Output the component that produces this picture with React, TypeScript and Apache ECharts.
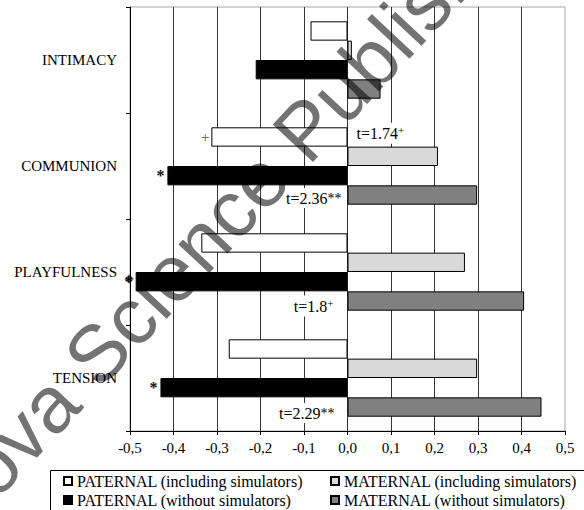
import { useEffect, useRef } from 'react';
import * as echarts from 'echarts';

const SERIF = "'Liberation Serif', 'Times New Roman', serif";
const SANS = "'Liberation Sans', Arial, sans-serif";

// Dimensions (top to bottom) and mean differences per group
const categories = ['INTIMACY', 'COMMUNION', 'PLAYFULNESS', 'TENSION'];
const paternalIncluding = [-0.085, -0.313, -0.336, -0.273];
const maternalIncluding = [0.01, 0.208, 0.27, 0.298];
const paternalWithout = [-0.211, -0.414, -0.487, -0.43];
const maternalWithout = [0.076, 0.298, 0.406, 0.446];

// Significance markers drawn next to the paternal bars
const paternalIncludingMarks = ['', '+', '', ''];
const paternalWithoutMarks = ['', '*', '*', '*'];

// t statistics (paternal vs maternal) with their significance suffix
const tIncluding = ['', '1.74', '', ''];
const tIncludingSig = ['', '+', '', ''];
const tWithout = ['', '2.36', '1.8', '2.29'];
const tWithoutSig = ['', '**', '+', '**'];

const seriesNames = [
  'PATERNAL (including simulators)',
  'MATERNAL (including simulators)',
  'PATERNAL (without simulators)',
  'MATERNAL (without simulators)',
];

const tRich = {
  t: { fontFamily: SERIF, fontSize: 16, color: '#000' },
  sup: { fontFamily: SERIF, fontSize: 11, color: '#000', verticalAlign: 'top' as const, padding: [0, 0, 6, 0] },
  ast: { fontFamily: SERIF, fontSize: 14, color: '#000' },
};

function tText(value: string, sig: string) {
  const tail = sig === '+' ? `{sup|+}` : `{ast|${sig}}`;
  return `{t|t=${value}}${tail}`;
}

export default function App() {
  const ref = useRef<HTMLDivElement>(null);

  useEffect(() => {
    if (!ref.current) return;
    const chart = echarts.init(ref.current, undefined, { renderer: 'svg' });

    const barCommon = {
      type: 'bar' as const,
      barGap: '0%',
      barCategoryGap: '27%',
      yAxisIndex: 0,
    };

    const option: any = {
      animation: false,
      backgroundColor: '#fff',
      textStyle: { fontFamily: SERIF },
      grid: {
        left: 130,
        right: 19,
        top: 7,
        bottom: 79,
        show: true,
        borderColor: '#a6a6a6',
        borderWidth: 1,
      },
      xAxis: {
        type: 'value',
        min: -0.5,
        max: 0.5,
        interval: 0.1,
        axisLine: { show: true, onZero: false, lineStyle: { color: '#000', width: 1 } },
        axisTick: { show: true, length: 4, lineStyle: { color: '#000' } },
        axisLabel: {
          fontFamily: SERIF,
          fontSize: 15,
          color: '#000',
          margin: 9,
          formatter: (v: number) => (Math.abs(v) < 1e-9 ? '0,0' : v.toFixed(1).replace('.', ',')),
        },
        splitLine: {
          show: true,
          showMinLine: false,
          showMaxLine: false,
          lineStyle: { color: '#333', width: 1 },
        },
      },
      yAxis: [
        {
          type: 'category',
          data: categories,
          inverse: true,
          axisLine: { show: false },
          axisTick: { show: false },
          splitLine: { show: false },
          axisLabel: { fontFamily: SERIF, fontSize: 15, color: '#000', margin: 13 },
        },
        {
          // zero line with ticks between the dimension groups
          type: 'category',
          data: categories,
          inverse: true,
          position: 'left',
          axisLine: { show: true, onZero: true, lineStyle: { color: '#000', width: 1 } },
          axisTick: { show: true, length: 4, inside: false, lineStyle: { color: '#000' } },
          axisLabel: { show: false },
          splitLine: { show: false },
        },
      ],
      legend: [
        {
          data: [seriesNames[0], seriesNames[2]],
          orient: 'vertical',
          left: 63,
          top: 473,
          padding: 0,
          itemWidth: 8,
          itemHeight: 8,
          itemGap: 3,
          icon: 'rect',
          selectedMode: false,
          textStyle: { fontFamily: SERIF, fontSize: 16, lineHeight: 16, color: '#000' },
        },
        {
          data: [seriesNames[1], seriesNames[3]],
          orient: 'vertical',
          left: 330,
          top: 473,
          padding: 0,
          itemWidth: 8,
          itemHeight: 8,
          itemGap: 3,
          icon: 'rect',
          selectedMode: false,
          textStyle: { fontFamily: SERIF, fontSize: 16, lineHeight: 16, color: '#000' },
        },
      ],
      series: [
        {
          ...barCommon,
          name: seriesNames[0],
          itemStyle: { color: '#ffffff', borderColor: '#000', borderWidth: 1 },
          data: paternalIncluding.map((v, i) => ({
            value: v,
            label: paternalIncludingMarks[i]
              ? {
                  show: true,
                  position: 'left',
                  distance: 2,
                  formatter: paternalIncludingMarks[i],
                  fontFamily: SERIF,
                  fontSize: 15,
                  color: '#555',
                }
              : { show: false },
          })),
        },
        {
          ...barCommon,
          name: seriesNames[1],
          itemStyle: { color: '#d9d9d9', borderColor: '#000', borderWidth: 1 },
          data: maternalIncluding.map((v, i) => ({
            value: v,
            label: tIncluding[i]
              ? {
                  show: true,
                  position: 'insideLeft',
                  distance: 5,
                  offset: [2, -23],
                  formatter: tText(tIncluding[i], tIncludingSig[i]),
                  backgroundColor: '#fff',
                  padding: [2, 2],
                  rich: tRich,
                }
              : { show: false },
          })),
        },
        {
          ...barCommon,
          name: seriesNames[2],
          itemStyle: { color: '#000000', borderColor: '#000', borderWidth: 1 },
          data: paternalWithout.map((v, i) => ({
            value: v,
            label: paternalWithoutMarks[i]
              ? {
                  show: true,
                  position: 'left',
                  distance: 3,
                  formatter: paternalWithoutMarks[i],
                  fontFamily: SERIF,
                  fontSize: 16,
                  fontWeight: 'bold',
                  color: '#111',
                }
              : { show: false },
          })),
        },
        {
          ...barCommon,
          name: seriesNames[3],
          itemStyle: { color: '#808080', borderColor: '#000', borderWidth: 1 },
          data: maternalWithout.map((v, i) => ({
            value: v,
            label: tWithout[i]
              ? {
                  show: true,
                  position: 'left',
                  distance: [0, 4, 12, 11][i],
                  offset: [0, [0, 3, 5, 6][i]],
                  formatter: tText(tWithout[i], tWithoutSig[i]),
                  backgroundColor: '#fff',
                  padding: [2, 2],
                  rich: tRich,
                }
              : { show: false },
          })),
        },
      ],
      graphic: [
        {
          // legend frame
          type: 'rect',
          z: 1,
          shape: { x: 50.5, y: 470.5, width: 600, height: 100 },
          style: { fill: 'none', stroke: '#000', lineWidth: 1 },
        },
        {
          // publisher watermark
          type: 'text',
          z: 100,
          x: 240,
          y: 200,
          rotation: (47 * Math.PI) / 180,
          silent: true,
          style: {
            text: 'Nova Science Publishers',
            font: `80px ${SANS}`,
            fill: 'rgba(0,0,0,0.55)',
            align: 'center',
            verticalAlign: 'middle',
            textAlign: 'center',
            textVerticalAlign: 'middle',
          },
        },
      ],
    };

    chart.setOption(option);
    return () => chart.dispose();
  }, []);

  return (
    <div
      ref={ref}
      style={{ position: 'absolute', left: 0, top: 0, width: 584, height: 510, background: '#fff' }}
    />
  );
}
